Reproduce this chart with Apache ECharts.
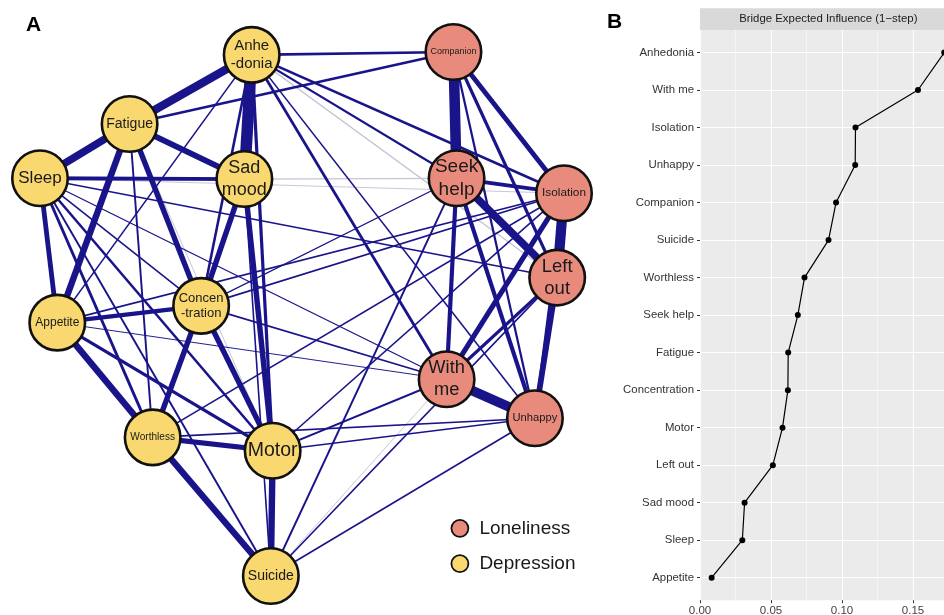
<!DOCTYPE html>
<html>
<head>
<meta charset="utf-8">
<script src="https://cdn.jsdelivr.net/npm/echarts@6/dist/echarts.min.js"></script>
<style>
html,body{margin:0;padding:0;background:#fff;}
#chart{width:944px;height:615px;}
</style>
</head>
<body>
<div id="chart"></div>
<script>
// ---------- Panel A: network ----------
const nodeNames  = ['Anhedonia','Companion','Fatigue','Sleep','Sad mood','Seek help','Isolation','Left out','Concentration','Appetite','With me','Unhappy','Worthless','Motor','Suicide'];
const nodeLabels = ['Anhe\n-donia','Companion','Fatigue','Sleep','Sad\nmood','Seek\nhelp','Isolation','Left\nout','Concen\n-tration','Appetite','With\nme','Unhappy','Worthless','Motor','Suicide'];
const nodeGroup  = ['Depression','Loneliness','Depression','Depression','Depression','Loneliness','Loneliness','Loneliness','Depression','Depression','Loneliness','Loneliness','Depression','Depression','Depression'];
// layout coordinates (qgraph-style, -1..1)
const nodeX = [-0.192, 0.578, -0.658, -1.000, -0.220, 0.590, 1.000, 0.974, -0.385, -0.934, 0.552, 0.889, -0.570, -0.112, -0.119];
const nodeY = [ 0.989, 1.000,  0.725,  0.518,  0.515, 0.518, 0.461, 0.139,  0.031, -0.033, -0.249, -0.398, -0.471, -0.522, -1.000];
const groupNames = ['Loneliness','Depression'];

// edges: [from, to, weight]
const edges = [
  ['Anhedonia','Sad mood',0.36],['Anhedonia','Fatigue',0.26],['Anhedonia','Motor',0.10],
  ['Anhedonia','Concentration',0.08],['Anhedonia','Appetite',0.05],['Anhedonia','Companion',0.08],
  ['Anhedonia','Seek help',0.07],['Anhedonia','Isolation',0.08],['Anhedonia','With me',0.09],
  ['Anhedonia','Unhappy',0.05],
  ['Fatigue','Sleep',0.24],['Fatigue','Sad mood',0.18],['Fatigue','Appetite',0.20],
  ['Fatigue','Concentration',0.17],['Fatigue','Worthless',0.06],['Fatigue','Companion',0.08],
  ['Sleep','Sad mood',0.12],['Sleep','Appetite',0.15],['Sleep','Worthless',0.09],
  ['Sleep','Motor',0.08],['Sleep','Suicide',0.06],['Sleep','Concentration',0.05],
  ['Sleep','Left out',0.05],['Sleep','With me',0.04],
  ['Sad mood','Concentration',0.17],['Sad mood','Motor',0.17],['Sad mood','Suicide',0.05],
  ['Concentration','Appetite',0.14],['Concentration','Worthless',0.17],['Concentration','Motor',0.17],
  ['Concentration','With me',0.05],['Concentration','Isolation',0.05],['Concentration','Seek help',0.04],
  ['Appetite','Worthless',0.20],['Appetite','Motor',0.10],['Appetite','Isolation',0.05],['Appetite','With me',0.03],
  ['Worthless','Motor',0.16],['Worthless','Suicide',0.20],['Worthless','Unhappy',0.05],['Worthless','Isolation',0.05],
  ['Motor','Suicide',0.20],['Motor','Unhappy',0.05],['Motor','With me',0.06],['Motor','Isolation',0.05],
  ['Suicide','Unhappy',0.05],['Suicide','Seek help',0.06],['Suicide','Left out',0.05],
  ['Companion','Seek help',0.33],['Companion','Isolation',0.15],['Companion','Left out',0.10],['Companion','Unhappy',0.07],
  ['Seek help','Isolation',0.12],['Seek help','Left out',0.24],['Seek help','With me',0.13],['Seek help','Unhappy',0.13],
  ['Isolation','Left out',0.32],['Isolation','With me',0.16],['Isolation','Unhappy',0.08],
  ['Left out','Unhappy',0.18],['Left out','With me',0.10],
  ['With me','Unhappy',0.30]
];
// faint (faded) edges
const fadedEdges = [
  ['Anhedonia','Left out',0.04],['Sad mood','Seek help',0.04],['Sleep','Isolation',0.03],
  ['With me','Suicide',0.03],['Fatigue','Motor',0.03]
];

// ---------- Panel B: bridge expected influence ----------
const bridgeNodes = ['Anhedonia','With me','Isolation','Unhappy','Companion','Suicide','Worthless','Seek help','Fatigue','Concentration','Motor','Left out','Sad mood','Sleep','Appetite'];
const bridgeEI    = [0.172, 0.1535, 0.1095, 0.1093, 0.0958, 0.0905, 0.0736, 0.0689, 0.0621, 0.0619, 0.0581, 0.0513, 0.0314, 0.0298, 0.0082];
const xTicks = [0, 0.05, 0.10, 0.15];

// ---------- styling ----------
const FONT = "'Liberation Sans', Arial, sans-serif";
const labelSize = [15, 9, 14, 17, 18, 19, 11.8, 18.5, 13, 12, 18.3, 11.2, 10.1, 19.5, 14];
const groupColor = {Loneliness:'#E88B7D', Depression:'#F9D86F'};
const EDGE = '#1A148A', FADED = '#C4C4D6', WSCALE = 32;

const nodes = nodeNames.map((n,i)=>({
  name:n, value:[nodeX[i], nodeY[i]], category: groupNames.indexOf(nodeGroup[i]),
  label:{formatter: nodeLabels[i], fontSize: labelSize[i], lineHeight: labelSize[i]*1.2}
}));
const links = edges.map(e=>({source:e[0], target:e[1], lineStyle:{width:e[2]*WSCALE, color:EDGE, opacity:1}}))
  .concat(fadedEdges.map(e=>({source:e[0], target:e[1], lineStyle:{width:e[2]*WSCALE, color:FADED, opacity:1}})));
links.sort((a,b)=> (a.lineStyle.color===FADED?0:1) - (b.lineStyle.color===FADED?0:1));

const chart = echarts.init(document.getElementById('chart'), null, {renderer:'canvas'});
chart.setOption({
  animation:false,
  backgroundColor:'#fff',
  textStyle:{fontFamily:FONT},
  grid:[
    {left:40, top:52, width:524, height:524, show:false, outerBoundsMode:'none'},
    {left:700, top:30, width:284, height:570.2, show:true, backgroundColor:'#EBEBEB', borderWidth:0, outerBoundsMode:'none'},
    {left:700, top:52.5, width:284, height:525.2, show:false, outerBoundsMode:'none'}
  ],
  xAxis:[
    {gridIndex:0, type:'value', min:-1, max:1, show:false},
    {gridIndex:1, type:'value', min:0, max:0.2, interval:0.05,
      axisLine:{show:false},
      axisTick:{show:true, length:3, lineStyle:{color:'#333', width:1}},
      axisLabel:{show:true, color:'#444', fontSize:11.5, margin:5, fontFamily:FONT,
        formatter:v=> xTicks.some(t=>Math.abs(t-v)<1e-9) ? v.toFixed(2) : ''},
      splitLine:{show:true, lineStyle:{color:'#fff', width:1.1}},
      minorTick:{show:false, splitNumber:2},
      minorSplitLine:{show:true, lineStyle:{color:'#fff', width:0.55}}
    },
    {gridIndex:2, type:'value', min:0, max:0.2, show:false}
  ],
  yAxis:[
    {gridIndex:0, type:'value', min:-1, max:1, show:false},
    {gridIndex:1, type:'value', min:0, max:1, show:false},
    {gridIndex:2, type:'category', data:bridgeNodes, inverse:true, boundaryGap:false,
      axisLine:{show:false},
      axisTick:{show:true, length:3, lineStyle:{color:'#333', width:1}},
      axisLabel:{color:'#333', fontSize:11.4, margin:6, fontFamily:FONT},
      splitLine:{show:true, lineStyle:{color:'#fff', width:1.1}}
    }
  ],
  legend:{
    data:groupNames, orient:'vertical', left:445.5, top:513.8, itemWidth:17, itemHeight:17, itemGap:16.4,
    icon:'circle', selectedMode:false,
    itemStyle:{borderColor:'#111', borderWidth:1.8},
    textStyle:{fontSize:19, color:'#1a1a1a', fontFamily:FONT, padding:[0,0,0,6]}
  },
  graphic:[
    {type:'text', left:26, top:15, style:{text:'A', font:"bold 21px 'Liberation Sans', Arial", fill:'#000'}},
    {type:'text', left:607, top:12, style:{text:'B', font:"bold 21px 'Liberation Sans', Arial", fill:'#000'}},
    {type:'rect', shape:{x:700, y:8.3, width:284, height:21.7}, style:{fill:'#D9D9D9'}, silent:true},
    {type:'text', x:828.3, y:19.2, style:{text:'Bridge Expected Influence (1\u2212step)', textAlign:'center', textVerticalAlign:'middle', font:"11.4px 'Liberation Sans', Arial", fill:'#1A1A1A'}}
  ],
  series:[
    {
      type:'graph', layout:'none', coordinateSystem:'cartesian2d', xAxisIndex:0, yAxisIndex:0,
      symbol:'circle', symbolSize:55.5, roam:false, silent:true,
      categories: groupNames.map(g=>({name:g, itemStyle:{color:groupColor[g], borderColor:'#111', borderWidth:2.6}})),
      itemStyle:{borderColor:'#111', borderWidth:2.6},
      label:{show:true, position:'inside', color:'#1a1a1a', fontFamily:FONT, align:'center'},
      edgeSymbol:['none','none'],
      lineStyle:{curveness:0},
      emphasis:{disabled:true},
      data:nodes, links:links
    },
    {
      type:'line', xAxisIndex:2, yAxisIndex:2, data:bridgeEI,
      symbol:'circle', symbolSize:6, showSymbol:true,
      itemStyle:{color:'#000'}, lineStyle:{color:'#000', width:1.2},
      silent:true, clip:false, emphasis:{disabled:true}
    }
  ]
});
</script>
</body>
</html>
